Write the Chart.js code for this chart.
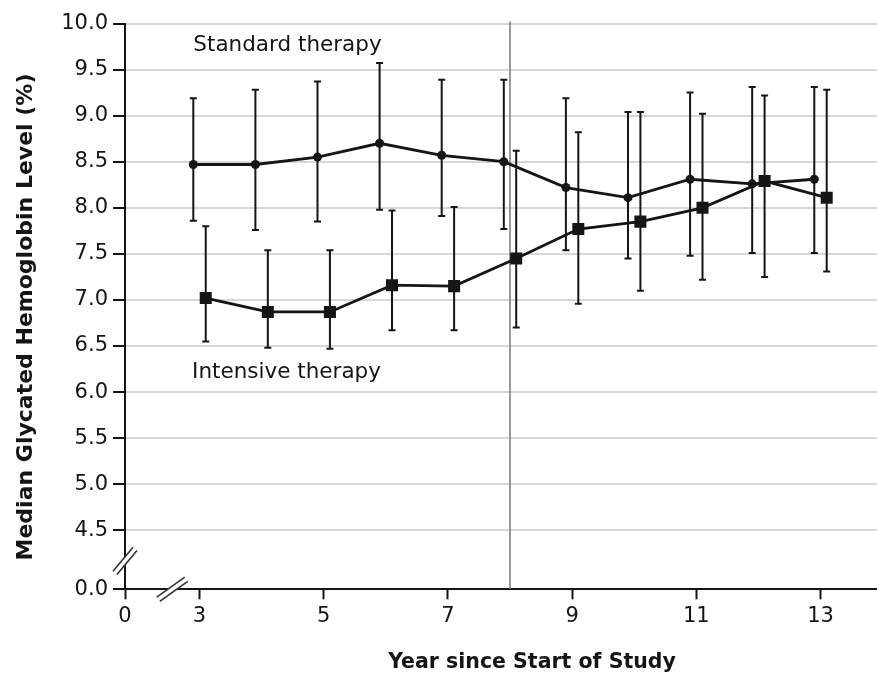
<!DOCTYPE html>
<html>
<head>
<meta charset="utf-8">
<script src="https://cdn.jsdelivr.net/npm/chart.js@4.4.1/dist/chart.umd.min.js"></script>
<style>
  html, body { margin: 0; padding: 0; background: #ffffff; }
  #wrap { width: 877px; height: 677px; }
</style>
</head>
<body>
<div id="wrap"><canvas id="chart" width="877" height="677"></canvas></div>
<script>
// Study years at which HbA1c was summarised
const years = [3, 4, 5, 6, 7, 8, 9, 10, 11, 12, 13];

// Standard therapy: median and interquartile-style range (%)
const standardMedian = [8.47, 8.47, 8.55, 8.70, 8.57, 8.50, 8.22, 8.11, 8.31, 8.26, 8.31];
const standardLow    = [7.86, 7.76, 7.85, 7.98, 7.91, 7.77, 7.54, 7.45, 7.48, 7.51, 7.51];
const standardHigh   = [9.19, 9.28, 9.37, 9.57, 9.39, 9.39, 9.19, 9.04, 9.25, 9.31, 9.31];

// Intensive therapy: median and range (%)
const intensiveMedian = [7.02, 6.87, 6.87, 7.16, 7.15, 7.45, 7.77, 7.85, 8.00, 8.29, 8.11];
const intensiveLow    = [6.55, 6.48, 6.47, 6.67, 6.67, 6.70, 6.96, 7.10, 7.22, 7.25, 7.31];
const intensiveHigh   = [7.80, 7.54, 7.54, 7.97, 8.01, 8.62, 8.82, 9.04, 9.02, 9.22, 9.28];

// Axis tick labels
const yTickValues = [4.5, 5.0, 5.5, 6.0, 6.5, 7.0, 7.5, 8.0, 8.5, 9.0, 9.5, 10.0];
const xTickValues = [3, 5, 7, 9, 11, 13];
const yOriginLabel = '0.0';
const xOriginLabel = '0';

// Series names, axis titles
const seriesNames = ['Standard therapy', 'Intensive therapy'];
const xTitle = 'Year since Start of Study';
const yTitle = 'Median Glycated Hemoglobin Level (%)';
const interventionEndYear = 8;

// ---- layout constants (broken axes) ----
const Y_ORIGIN_POS = 3.86;   // where the "0.0" origin sits on the broken y scale
const X_ORIGIN_POS = 1.80;   // where the "0" origin sits on the broken x scale
const DODGE = 0.1;           // horizontal offset between the two groups
const FONT = '"DejaVu Sans", Verdana, sans-serif';
const INK = '#151515';

const toPoints = (vals, shift) => vals.map((v, i) => ({ x: years[i] + shift, y: v }));

const errorBars = [
  { low: standardLow, high: standardHigh, shift: -DODGE },
  { low: intensiveLow, high: intensiveHigh, shift: DODGE }
];

// Error bars drawn behind the markers
const errorBarPlugin = {
  id: 'errorBars',
  beforeDatasetsDraw(chart) {
    const { ctx, scales: { x, y } } = chart;
    ctx.save();
    ctx.strokeStyle = INK;
    ctx.lineWidth = 2;
    errorBars.forEach(set => {
      years.forEach((yr, i) => {
        const px = x.getPixelForValue(yr + set.shift);
        const top = y.getPixelForValue(set.high[i]);
        const bot = y.getPixelForValue(set.low[i]);
        ctx.beginPath();
        ctx.moveTo(px, top); ctx.lineTo(px, bot);
        ctx.moveTo(px - 3.5, top); ctx.lineTo(px + 3.5, top);
        ctx.moveTo(px - 3.5, bot); ctx.lineTo(px + 3.5, bot);
        ctx.stroke();
      });
    });
    ctx.restore();
  }
};

// Reference line at end of the randomised phase, axis breaks, labels, titles
const decorPlugin = {
  id: 'decor',
  beforeDatasetsDraw(chart) {
    const { ctx, chartArea, scales: { x } } = chart;
    const px = x.getPixelForValue(interventionEndYear);
    ctx.save();
    ctx.strokeStyle = '#7a7a7a';
    ctx.lineWidth = 1.5;
    ctx.beginPath();
    ctx.moveTo(px, chartArea.top - 2);
    ctx.lineTo(px, chartArea.bottom);
    ctx.stroke();
    ctx.restore();
  },
  afterDraw(chart) {
    const { ctx, chartArea, scales: { x, y } } = chart;
    const drawBreak = (cx, cy, dx, dy) => {
      const nx = -dy, ny = dx;
      const len = Math.hypot(nx, ny);
      const ox = nx / len * 2.6, oy = ny / len * 2.6;
      ctx.save();
      ctx.strokeStyle = '#ffffff';
      ctx.lineWidth = 5;
      ctx.beginPath();
      ctx.moveTo(cx - dx, cy - dy); ctx.lineTo(cx + dx, cy + dy);
      ctx.stroke();
      ctx.strokeStyle = '#333333';
      ctx.lineWidth = 1.6;
      [-1, 1].forEach(s => {
        ctx.beginPath();
        ctx.moveTo(cx - dx + s * ox, cy - dy + s * oy);
        ctx.lineTo(cx + dx + s * ox, cy + dy + s * oy);
        ctx.stroke();
      });
      ctx.restore();
    };
    // y-axis break between origin and 4.5
    const yb = (y.getPixelForValue(Y_ORIGIN_POS) + y.getPixelForValue(4.5)) / 2 + 1;
    drawBreak(chartArea.left, yb, 10, -12);
    // x-axis break between origin and 3
    const xb = (x.getPixelForValue(X_ORIGIN_POS) + x.getPixelForValue(3)) / 2 + 10;
    drawBreak(xb, chartArea.bottom, 14, -10);

    ctx.save();
    ctx.fillStyle = INK;
    ctx.textBaseline = 'middle';
    ctx.textAlign = 'left';
    ctx.font = '21.5px ' + FONT;
    ctx.fillText(seriesNames[0], x.getPixelForValue(2.9), y.getPixelForValue(9.76));
    ctx.fillText(seriesNames[1], x.getPixelForValue(2.88), y.getPixelForValue(6.21));

    ctx.font = 'bold 20.5px ' + FONT;
    ctx.textAlign = 'center';
    ctx.fillText(xTitle, 532, 663);
    ctx.font = 'bold 22px ' + FONT;
    ctx.translate(26, 317);
    ctx.rotate(-Math.PI / 2);
    ctx.fillText(yTitle, 0, 0);
    ctx.restore();
  }
};

new Chart(document.getElementById('chart'), {
  type: 'line',
  data: {
    datasets: [
      {
        label: seriesNames[0],
        data: toPoints(standardMedian, -DODGE),
        borderColor: INK,
        backgroundColor: INK,
        borderWidth: 2.8,
        pointStyle: 'circle',
        pointRadius: 4.5,
        pointBorderWidth: 0,
        tension: 0
      },
      {
        label: seriesNames[1],
        data: toPoints(intensiveMedian, DODGE),
        borderColor: INK,
        backgroundColor: INK,
        borderWidth: 2.8,
        pointStyle: 'rect',
        pointRadius: 8.5,
        pointBorderWidth: 0,
        tension: 0
      }
    ]
  },
  options: {
    responsive: false,
    animation: false,
    events: [],
    layout: { autoPadding: false, padding: { top: 23.5, right: 0, bottom: 0, left: 0 } },
    plugins: { legend: { display: false }, tooltip: { enabled: false } },
    scales: {
      x: {
        type: 'linear',
        min: X_ORIGIN_POS,
        max: 13.91,
        afterBuildTicks(scale) {
          scale.ticks = [X_ORIGIN_POS, ...xTickValues].map(v => ({ value: v }));
        },
        afterFit(scale) {
          scale.height = 87.7;
          scale.paddingLeft = 0;
          scale.paddingRight = 0;
        },
        ticks: {
          autoSkip: false,
          maxRotation: 0,
          padding: 5,
          color: INK,
          font: { family: FONT, size: 21 },
          callback: v => (v === X_ORIGIN_POS ? xOriginLabel : String(v))
        },
        grid: {
          drawOnChartArea: false,
          drawTicks: true,
          tickLength: 10,
          tickWidth: 2,
          tickColor: INK
        },
        border: { color: INK, width: 2 }
      },
      y: {
        type: 'linear',
        min: Y_ORIGIN_POS,
        max: 10,
        afterBuildTicks(scale) {
          scale.ticks = [Y_ORIGIN_POS, ...yTickValues].map(v => ({ value: v }));
        },
        afterFit(scale) {
          scale.width = 125;
          scale.paddingTop = 0;
          scale.paddingBottom = 0;
        },
        ticks: {
          autoSkip: false,
          padding: 5,
          color: INK,
          font: { family: FONT, size: 21 },
          callback: v => (v === Y_ORIGIN_POS ? yOriginLabel : v.toFixed(1))
        },
        grid: {
          color: c => (c.tick && c.tick.value === Y_ORIGIN_POS ? 'rgba(0,0,0,0)' : '#d6d8db'),
          lineWidth: 2,
          drawTicks: true,
          tickLength: 12,
          tickWidth: 2,
          tickColor: INK
        },
        border: { color: INK, width: 2 }
      }
    }
  },
  plugins: [errorBarPlugin, decorPlugin]
});
</script>
</body>
</html>
